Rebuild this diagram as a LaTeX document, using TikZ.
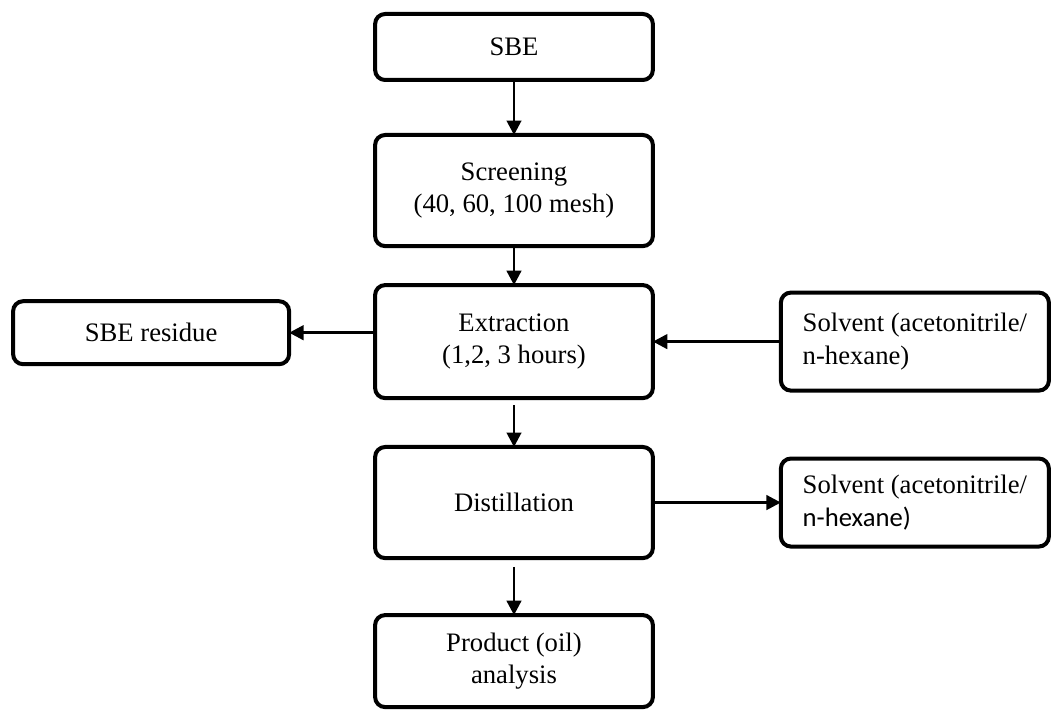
\documentclass[tikz,border=0pt]{standalone}
\usepackage{fontspec}
\setmainfont{Liberation Serif}
\newfontfamily\calibrifont{Carlito}
\usepackage{tikz}
\usetikzlibrary{arrows.meta,positioning}

\begin{document}
\begin{tikzpicture}[->,>={Triangle[length=6.5pt,width=6.5pt]},line width=1.3pt,node distance=20pt,font=\fontsize{12}{14.5}\selectfont,
main node/.style={draw,rounded corners=4.5pt,line width=1.8pt,align=center,minimum width=125pt,inner sep=2pt,outer sep=0pt},
side node/.style={main node,minimum width=120.6pt,align=left}]
				\useasboundingbox (0,0) rectangle (474.75pt,-319.95pt);
				
				\node[main node,minimum height=29.7pt] (1) at (231.3pt,-21.15pt) {SBE};
				\node[main node,minimum height=50pt] (2) [below=24.75pt of 1] {Screening\\(40, 60, 100 mesh)};
				\node[main node,minimum height=50.85pt] (3) [below=17.55pt of 2] {Extraction\\(1,2, 3 hours)};
				\node[main node,minimum height=28.35pt,minimum width=124.2pt] (4) [left=38.7pt of 3, yshift=4pt] {SBE residue};
				\node[side node,minimum height=44.1pt] (5) [right=57.6pt of 3] {Solvent (acetonitrile/\\n-hexane)};
				
				\node[main node,minimum height=50pt] (6) [below=22pt of 3] {Distillation};
				\node[side node,minimum height=39.6pt] (7) [right=57.6pt of 6] {Solvent (acetonitrile/\\{\calibrifont n-hexane)}};
				\node[main node,minimum height=41.4pt] (8) [below=25.65pt of 6] {Product (oil)\\analysis};
				
				\path
				(1) edge (2)
				(2) edge (3)
				(3.west |- 4.east) edge (4.east)
				(5.west) edge (5.west -| 3.east)
				(3) edge [shorten <=3.2pt] (6)
				(6.east) edge (6.east -| 7.west)
				(6) edge [shorten <=4pt] (8);
				
\end{tikzpicture}
\end{document}
